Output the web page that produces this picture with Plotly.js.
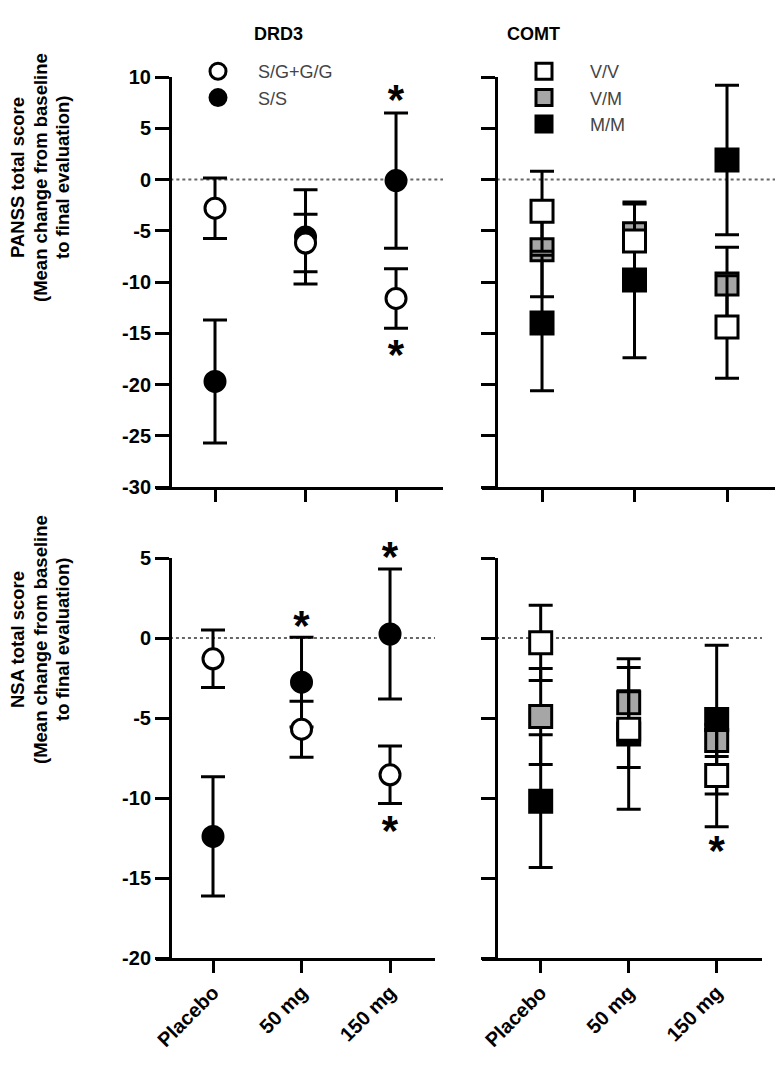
<!DOCTYPE html>
<html>
<head>
<meta charset="utf-8">
<script src="https://cdn.plot.ly/plotly-3.0.1.min.js"></script>
<style>html,body{margin:0;padding:0;background:#fff;}#chart{width:779px;height:1065px;}</style>
</head>
<body>
<div id="chart"></div>
<script>
// ---------- data ----------
const doses = ['Placebo', '50 mg', '150 mg'];
const doseIndex = [0, 1, 2];

// y tick labels
const panssTickVals = [10, 5, 0, -5, -10, -15, -20, -25, -30];
const panssTickText = ['10', '5', '0', '-5', '-10', '-15', '-20', '-25', '-30'];
const nsaTickVals = [5, 0, -5, -10, -15, -20];
const nsaTickText = ['5', '0', '-5', '-10', '-15', '-20'];

// DRD3 – PANSS
const drd3SgggPanss = [-2.8, -6.2, -11.6];
const drd3SgggPanssErr = [2.95, 2.8, 2.9];
const drd3SsPanss = [-19.7, -5.6, -0.1];
const drd3SsPanssErr = [6.0, 4.6, 6.6];

// DRD3 – NSA
const drd3SgggNsa = [-1.3, -5.7, -8.55];
const drd3SgggNsaErr = [1.8, 1.75, 1.8];
const drd3SsNsa = [-12.4, -2.76, 0.25];
const drd3SsNsaErr = [3.73, 2.8, 4.07];

// COMT – PANSS
const comtVVPanss = [-3.1, -6.0, -14.4];
const comtVVPanssErr = [3.9, 3.6, 5.0];
const comtVMPanss = [-6.85, -5.3, -10.2];
const comtVMPanssErr = [4.6, 0.9, 3.6];
const comtMMPanss = [-14.0, -9.8, 1.9];
const comtMMPanssErr = [6.6, 7.6, 7.3];

// COMT – NSA
const comtVVNsa = [-0.3, -5.7, -8.6];
const comtVVNsaErr = [2.35, 2.4, 3.2];
const comtVMNsa = [-4.9, -4.05, -6.4];
const comtVMNsaErr = [3.0, 2.2, 1.0];
const comtMMNsa = [-10.2, -6.0, -5.1];
const comtMMNsaErr = [4.15, 4.7, 4.65];

// significance asterisks (dose index, anchor value)
const starDrd3PanssX = [2, 2];
const starDrd3PanssY = [7.4, -17.5];
const starDrd3NsaX = [1, 2, 2];
const starDrd3NsaY = [0.55, 4.85, -12.25];
const starComtNsaX = [2];
const starComtNsaY = [-13.55];

// axis titles
const panssTitleLines = ['PANSS total score', '(Mean change from baseline', 'to final evaluation)'];
const nsaTitleLines = ['NSA total score', '(Mean change from baseline', 'to final evaluation)'];

// ---------- helpers ----------
const W = 779, H = 1065;
const px = v => v / W;
const py = v => 1 - v / H;
const FONT = 'Liberation Sans, Arial, sans-serif';

function series(name, xa, ya, yv, ev, symbol, fill, showleg, leg, rank) {
  return {
    type: 'scatter', mode: 'markers', name: name,
    x: doseIndex, y: yv, xaxis: xa, yaxis: ya,
    error_y: {type: 'data', array: ev, visible: true, color: '#000', thickness: 3, width: 12},
    marker: {symbol: symbol, size: symbol === 'circle' ? 20 : 22, color: fill,
             line: {color: '#000', width: 3}},
    cliponaxis: false, showlegend: showleg, legend: leg, legendrank: rank,
    legendgroup: name, hoverinfo: 'skip'
  };
}
function stars(xs, ys, xa, ya) {
  return {
    type: 'scatter', mode: 'text', x: xs, y: ys, xaxis: xa, yaxis: ya,
    text: xs.map(() => '*'), textposition: 'middle center',
    textfont: {family: FONT, size: 42, color: '#000', weight: 'bold'},
    cliponaxis: false, showlegend: false, hoverinfo: 'skip'
  };
}

const data = [
  series('S/S', 'x', 'y', drd3SsPanss, drd3SsPanssErr, 'circle', '#000', true, 'legend', 2),
  series('S/G+G/G', 'x', 'y', drd3SgggPanss, drd3SgggPanssErr, 'circle', '#fff', true, 'legend', 1),
  series('S/S', 'x3', 'y3', drd3SsNsa, drd3SsNsaErr, 'circle', '#000', false, 'legend', 2),
  series('S/G+G/G', 'x3', 'y3', drd3SgggNsa, drd3SgggNsaErr, 'circle', '#fff', false, 'legend', 1),
  series('V/M', 'x2', 'y2', comtVMPanss, comtVMPanssErr, 'square', '#a6a6a6', true, 'legend2', 2),
  series('M/M', 'x2', 'y2', comtMMPanss, comtMMPanssErr, 'square', '#000', true, 'legend2', 3),
  series('V/V', 'x2', 'y2', comtVVPanss, comtVVPanssErr, 'square', '#fff', true, 'legend2', 1),
  series('V/M', 'x4', 'y4', comtVMNsa, comtVMNsaErr, 'square', '#a6a6a6', false, 'legend2', 2),
  series('M/M', 'x4', 'y4', comtMMNsa, comtMMNsaErr, 'square', '#000', false, 'legend2', 3),
  series('V/V', 'x4', 'y4', comtVVNsa, comtVVNsaErr, 'square', '#fff', false, 'legend2', 1),
  stars(starDrd3PanssX, starDrd3PanssY, 'x', 'y'),
  stars(starDrd3NsaX, starDrd3NsaY, 'x3', 'y3'),
  stars(starComtNsaX, starComtNsaY, 'x4', 'y4')
];

function xAxis(d0, d1, r0, r1, anchor, labels) {
  return {
    domain: [px(d0), px(d1)], range: [r0, r1], anchor: anchor,
    tickmode: 'array', tickvals: doseIndex, ticktext: doses,
    showticklabels: labels, tickangle: -45,
    tickfont: {family: FONT, size: 20, color: '#000', weight: 'bold'},
    ticks: 'outside', ticklen: 12, tickwidth: 3, tickcolor: '#000',
    showline: true, linewidth: 3, linecolor: '#000',
    showgrid: false, zeroline: false, fixedrange: true
  };
}
function yAxis(t, b, r0, r1, pos, labels, tv, tt) {
  return {
    domain: [py(b), py(t)], range: [r0, r1], anchor: 'free', position: px(pos),
    tickmode: 'array', tickvals: tv, ticktext: tt, showticklabels: labels,
    tickfont: {family: FONT, size: 20, color: '#000', weight: 'bold'},
    ticks: 'outside', ticklen: 14, tickwidth: 3, tickcolor: '#000',
    showline: true, linewidth: 3, linecolor: '#000',
    showgrid: false, zeroline: false, fixedrange: true
  };
}

const zeroLine = (xr, yr) => ({
  type: 'line', xref: xr + ' domain', yref: yr, x0: 0.05, x1: 1, y0: 0, y1: 0,
  line: {color: '#666', width: 2, dash: 'dot'}, layer: 'below'
});

const annotations = [
  {text: 'DRD3', x: px(252), y: py(22), xref: 'paper', yref: 'paper', showarrow: false,
   font: {family: FONT, size: 18, color: '#000', weight: 'bold'}},
  {text: 'COMT', x: px(562), y: py(22), xref: 'paper', yref: 'paper', showarrow: false,
   font: {family: FONT, size: 18, color: '#000', weight: 'bold'}}
];
const titleX = [17, 40, 62];
function yTitle(lines, yc) {
  lines.forEach((t, i) => annotations.push({
    text: t, x: px(titleX[i]), y: py(yc), xref: 'paper', yref: 'paper',
    xanchor: 'center', yanchor: 'middle', showarrow: false, textangle: -90,
    font: {family: FONT, size: 18.5, color: '#000', weight: 'bold'}
  }));
}
yTitle(panssTitleLines, 178);
yTitle(nsaTitleLines, 640);

const legendFont = {family: FONT, size: 18, color: '#444'};
const layout = {
  width: W, height: H, margin: {l: 0, r: 0, t: 0, b: 0},
  paper_bgcolor: '#fff', plot_bgcolor: 'rgba(0,0,0,0)',
  xaxis: xAxis(156, 443, -0.652, 2.519, 'y', false),
  yaxis: yAxis(77, 487, -30, 10, 170, true, panssTickVals, panssTickText),
  xaxis2: xAxis(482, 775, -0.649, 2.519, 'y2', false),
  yaxis2: yAxis(77, 487, -30, 10, 496, false, panssTickVals, panssTickText),
  xaxis3: xAxis(156, 435, -0.644, 2.508, 'y3', true),
  yaxis3: yAxis(558, 958, -20, 5, 170, true, nsaTickVals, nsaTickText),
  xaxis4: xAxis(482, 762, -0.667, 2.515, 'y4', true),
  yaxis4: yAxis(558, 958, -20, 5, 496, false, nsaTickVals, nsaTickText),
  shapes: [zeroLine('x', 'y'), zeroLine('x2', 'y2'), zeroLine('x3', 'y3'), zeroLine('x4', 'y4')],
  annotations: annotations,
  legend: {x: px(178), y: py(53), xanchor: 'left', yanchor: 'top', font: legendFont,
           itemwidth: 70, bgcolor: 'rgba(0,0,0,0)', traceorder: 'normal'},
  legend2: {x: px(498), y: py(53), xanchor: 'left', yanchor: 'top', font: legendFont,
            itemwidth: 82, bgcolor: 'rgba(0,0,0,0)', traceorder: 'normal'},
  font: {family: FONT}
};

Plotly.newPlot('chart', data, layout, {staticPlot: true, displayModeBar: false});
</script>
</body>
</html>
